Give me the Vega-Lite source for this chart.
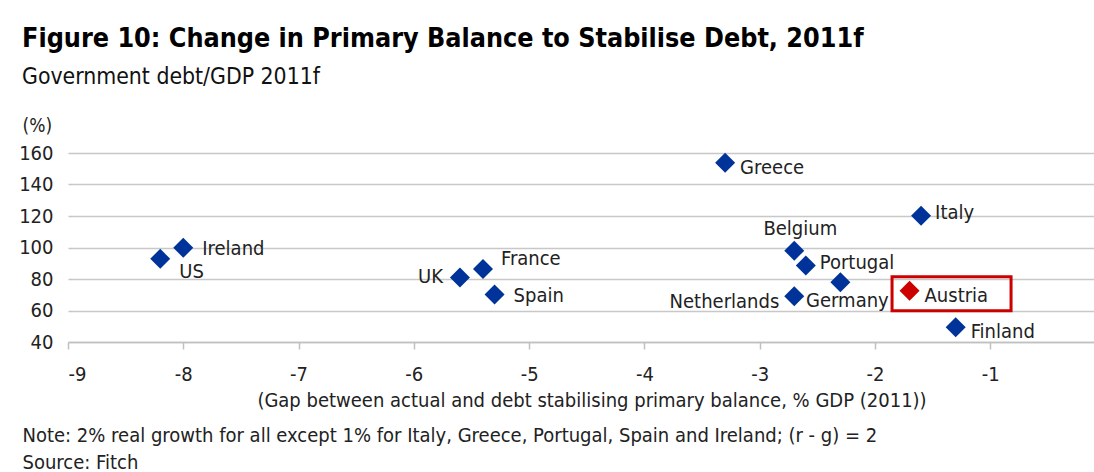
{
  "$schema": "https://vega.github.io/schema/vega-lite/v6.json",
  "width": 1026,
  "height": 189,
  "autosize": {"type": "none"},
  "padding": {"left": 68, "top": 153, "right": 0, "bottom": 130},
  "background": "white",
  "title": {
    "text": "Figure 10: Change in Primary Balance to Stabilise Debt, 2011f",
    "subtitle": "Government debt/GDP 2011f",
    "anchor": "start",
    "frame": "group",
    "dx": -46,
    "offset": 27,
    "fontSize": 26.7,
    "fontWeight": "bold",
    "color": "#000000",
    "subtitleFontSize": 22.8,
    "subtitleColor": "#111111",
    "subtitlePadding": 14
  },
  "datasets": {
    "countries": [
      {"country": "US", "gap": -8.2, "debt": 92.8},
      {"country": "Ireland", "gap": -8.0, "debt": 99.8},
      {"country": "UK", "gap": -5.6, "debt": 80.9},
      {"country": "France", "gap": -5.4, "debt": 86.4},
      {"country": "Spain", "gap": -5.3, "debt": 70.1},
      {"country": "Greece", "gap": -3.3, "debt": 153.8},
      {"country": "Belgium", "gap": -2.7, "debt": 98.0},
      {"country": "Portugal", "gap": -2.6, "debt": 88.5},
      {"country": "Netherlands", "gap": -2.7, "debt": 69.0},
      {"country": "Germany", "gap": -2.3, "debt": 77.9},
      {"country": "Italy", "gap": -1.6, "debt": 120.1},
      {"country": "Austria", "gap": -1.7, "debt": 72.6},
      {"country": "Finland", "gap": -1.3, "debt": 49.3}
    ]
  },
  "data": {"name": "countries"},
  "layer": [
    {
      "encoding": {
        "x": {
          "field": "gap",
          "type": "quantitative",
          "scale": {"domain": [-9, -0.1], "nice": false, "zero": false},
          "axis": {
            "values": [-9, -8, -7, -6, -5, -4, -3, -2, -1],
            "labelExpr": "toString(datum.value)",
            "labelOverlap": false,
            "grid": false,
            "domain": true,
            "domainColor": "#c0c0c0",
            "domainWidth": 1.5,
            "ticks": true,
            "tickColor": "#c0c0c0",
            "tickSize": 7,
            "tickWidth": 1.5,
            "labelPadding": 15,
            "labelFontSize": 20,
            "labelColor": "#222222",
            "title": "(Gap between actual and debt stabilising primary balance, % GDP (2011))",
            "titleFontSize": 20,
            "titleFontWeight": "normal",
            "titleColor": "#222222",
            "titleX": 523.5,
            "titleAlign": "center",
            "titlePadding": 6
          }
        },
        "y": {
          "field": "debt",
          "type": "quantitative",
          "scale": {"domain": [40, 160], "nice": false, "zero": false},
          "axis": {
            "values": [40, 60, 80, 100, 120, 140, 160],
            "labelOverlap": false,
            "grid": true,
            "gridColor": "#c8c8c8",
            "gridWidth": 1.5,
            "domain": false,
            "ticks": false,
            "labelPadding": 15,
            "labelFontSize": 20,
            "labelColor": "#222222",
            "title": "(%)",
            "titleAngle": 0,
            "titleX": -46,
            "titleY": -22,
            "titleAlign": "left",
            "titleBaseline": "alphabetic",
            "titleFontSize": 19,
            "titleFontWeight": "normal",
            "titleColor": "#222222"
          }
        }
      },
      "layer": [
        {
          "mark": {"type": "point", "shape": "diamond", "filled": true, "size": 400, "opacity": 1},
          "encoding": {
            "color": {
              "condition": {"test": "datum.country === 'Austria'", "value": "#cc0000"},
              "value": "#003399"
            }
          }
        },
        {
          "transform": [{"filter": "datum.country === 'Austria'"}],
          "mark": {
            "type": "point",
            "shape": "M-1,-0.2857L1,-0.2857L1,0.2857L-1,0.2857Z",
            "size": 14161,
            "filled": false,
            "stroke": "#cc0000",
            "strokeWidth": 3,
            "opacity": 1,
            "xOffset": 42,
            "yOffset": 3
          }
        },
        {
          "transform": [{"filter": {"field": "country", "oneOf": ["Greece", "Austria", "Finland"]}}],
          "mark": {"type": "text", "align": "left", "baseline": "middle", "dx": 15, "dy": 5, "fontSize": 20, "color": "#222222"},
          "encoding": {"text": {"field": "country"}}
        },
        {
          "transform": [{"filter": {"field": "country", "oneOf": ["Spain", "Ireland"]}}],
          "mark": {"type": "text", "align": "left", "baseline": "middle", "dx": 19, "dy": 1, "fontSize": 20, "color": "#222222"},
          "encoding": {"text": {"field": "country"}}
        },
        {
          "transform": [{"filter": {"field": "country", "oneOf": ["Italy", "Portugal"]}}],
          "mark": {"type": "text", "align": "left", "baseline": "middle", "dx": 14, "dy": -3, "fontSize": 20, "color": "#222222"},
          "encoding": {"text": {"field": "country"}}
        },
        {
          "transform": [{"filter": {"field": "country", "oneOf": ["France"]}}],
          "mark": {"type": "text", "align": "left", "baseline": "middle", "dx": 18, "dy": -10, "fontSize": 20, "color": "#222222"},
          "encoding": {"text": {"field": "country"}}
        },
        {
          "transform": [{"filter": {"field": "country", "oneOf": ["US"]}}],
          "mark": {"type": "text", "align": "left", "baseline": "middle", "dx": 19, "dy": 13, "fontSize": 20, "color": "#222222"},
          "encoding": {"text": {"field": "country"}}
        },
        {
          "transform": [{"filter": {"field": "country", "oneOf": ["UK"]}}],
          "mark": {"type": "text", "align": "right", "baseline": "middle", "dx": -17, "dy": -1, "fontSize": 20, "color": "#222222"},
          "encoding": {"text": {"field": "country"}}
        },
        {
          "transform": [{"filter": {"field": "country", "oneOf": ["Netherlands"]}}],
          "mark": {"type": "text", "align": "right", "baseline": "middle", "dx": -15, "dy": 6, "fontSize": 20, "color": "#222222"},
          "encoding": {"text": {"field": "country"}}
        },
        {
          "transform": [{"filter": {"field": "country", "oneOf": ["Belgium"]}}],
          "mark": {"type": "text", "align": "center", "baseline": "middle", "dx": 6, "dy": -22, "fontSize": 20, "color": "#222222"},
          "encoding": {"text": {"field": "country"}}
        },
        {
          "transform": [{"filter": {"field": "country", "oneOf": ["Germany"]}}],
          "mark": {"type": "text", "align": "center", "baseline": "middle", "dx": 7, "dy": 19, "fontSize": 20, "color": "#222222"},
          "encoding": {"text": {"field": "country"}}
        }
      ]
    },
    {
      "mark": {"type": "point", "opacity": 0},
      "encoding": {
        "x": {
          "field": "gap",
          "type": "quantitative",
          "scale": {"domain": [-9, -0.1], "nice": false, "zero": false},
          "axis": {
            "orient": "bottom",
            "labels": false,
            "ticks": false,
            "domain": false,
            "grid": false,
            "title": ["Note: 2% real growth for all except 1% for Italy, Greece, Portugal, Spain and Ireland; (r - g) = 2", "Source: Fitch"],
            "titleFontSize": 20,
            "titleFontWeight": "normal",
            "titleColor": "#222222",
            "titleAlign": "left",
            "titleAnchor": "start",
            "titleX": -46,
            "titleY": 99,
            "titleBaseline": "alphabetic",
            "titleLineHeight": 27
          }
        }
      }
    }
  ],
  "resolve": {"scale": {"x": "independent"}, "axis": {"x": "independent"}},
  "config": {
    "font": "Tahoma, DejaVu Sans Condensed, DejaVu Sans, sans-serif",
    "view": {"stroke": null}
  }
}
